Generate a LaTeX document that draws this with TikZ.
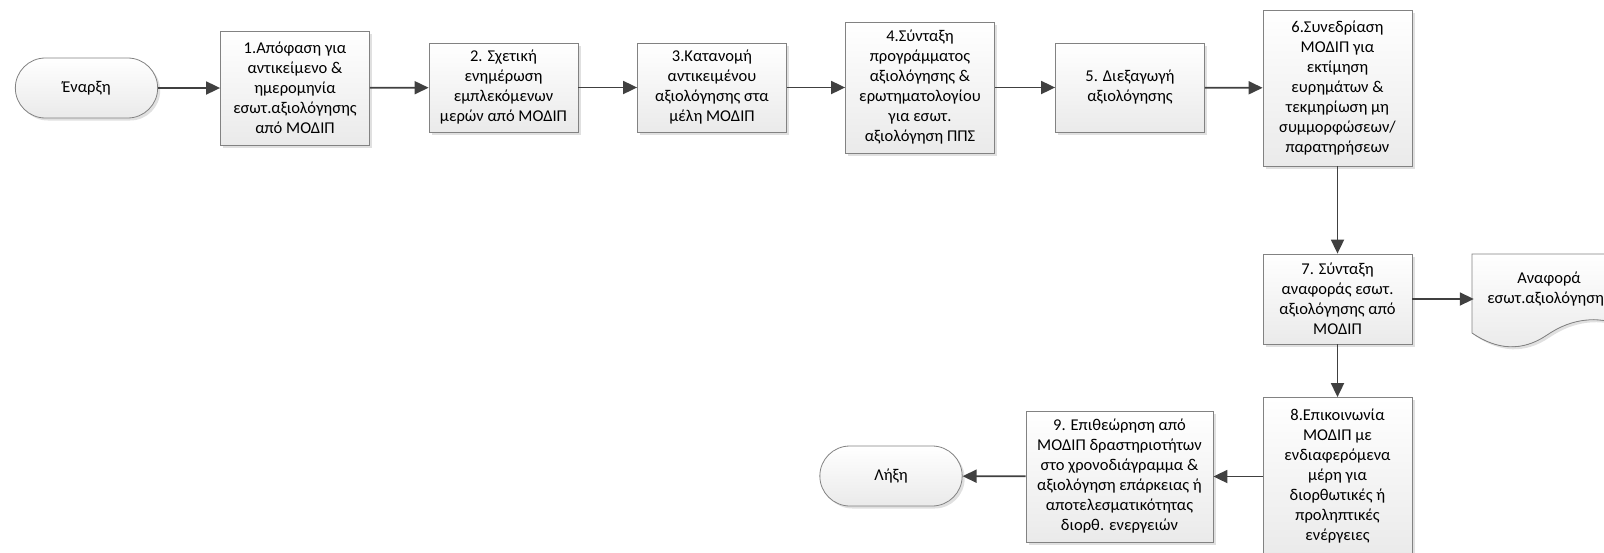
\documentclass[tikz,border=0pt]{standalone}
\usepackage{fontspec}
\setmainfont{Carlito}
\usetikzlibrary{arrows.meta,shapes.misc,shadows}
\definecolor{boxline}{RGB}{130,130,130}
\definecolor{arrowgray}{RGB}{64,64,64}
\definecolor{boxbottom}{RGB}{234,234,234}
\tikzset{
  stepbox/.style={rectangle,draw=boxline,line width=0.8pt,top color=white,bottom color=boxbottom,
    drop shadow={shadow xshift=2.5pt,shadow yshift=-2.5pt,fill=black,opacity=0.12},
    minimum width=149,align=center,inner sep=2pt,font=\fontsize{16.5}{20}\selectfont},
  termbox/.style={rounded rectangle,draw=boxline,line width=0.8pt,top color=white,bottom color=boxbottom,
    drop shadow={shadow xshift=2.5pt,shadow yshift=-2.5pt,fill=black,opacity=0.12},
    minimum width=149,minimum height=60,font=\fontsize{16.5}{20}\selectfont},
  flow/.style={draw=arrowgray,line width=1.8pt,-{Triangle[length=14pt,width=13pt]}}
}
\begin{document}
\begin{tikzpicture}[x=1pt,y=-1pt]
\useasboundingbox (0,0) rectangle (1604,552);

% top row
\node (start) at (86.5,88)[termbox]{Έναρξη};
\node (b1) at (295,88)[stepbox,minimum height=114]{1.Απόφαση για\\αντικείμενο \&\\ημερομηνία\\εσωτ.αξιολόγησης\\από ΜΟΔΙΠ};
\node (b2) at (503.5,87.5)[stepbox,minimum height=89]{2. Σχετική\\ενημέρωση\\εμπλεκόμενων\\μερών από ΜΟΔΙΠ};
\node (b3) at (712,87.5)[stepbox,minimum height=89]{3.Κατανομή\\αντικειμένου\\αξιολόγησης στα\\μέλη ΜΟΔΙΠ};
\node (b4) at (920,87.5)[stepbox,minimum height=131]{4.Σύνταξη\\προγράμματος\\αξιολόγησης \&\\ερωτηματολογίου\\για εσωτ.\\αξιολόγηση ΠΠΣ};
\node (b5) at (1130,87.5)[stepbox,minimum height=89]{5. Διεξαγωγή\\αξιολόγησης};
\node (b6) at (1337.5,88)[stepbox,minimum height=156]{6.Συνεδρίαση\\ΜΟΔΙΠ για\\εκτίμηση\\ευρημάτων \&\\τεκμηρίωση μη\\συμμορφώσεων/\\παρατηρήσεων};

% right column
\node (b7) at (1337.5,299)[stepbox,minimum height=90]{7. Σύνταξη\\αναφοράς εσωτ.\\αξιολόγησης από\\ΜΟΔΙΠ};
\node (b8) at (1337.5,476.5)[stepbox,minimum height=158]{8.Επικοινωνία\\ΜΟΔΙΠ με\\ενδιαφερόμενα\\μέρη για\\διορθωτικές ή\\προληπτικές\\ενέργειες};

% document
\filldraw[draw=boxline,line width=0.8pt,top color=white,bottom color=boxbottom,
  drop shadow={shadow xshift=2.5pt,shadow yshift=-2.5pt,fill=black,opacity=0.12}]
  (1472,254) -- (1622,254) -- (1622,325)
  .. controls (1597,316) and (1572,318) .. (1547,335)
  .. controls (1522,352) and (1497,350) .. (1472,333) -- cycle;
\node (rep) at (1549,289)[align=center,font=\fontsize{16.5}{20}\selectfont,minimum width=150,inner sep=0pt]{Αναφορά\\εσωτ.αξιολόγησης};

% bottom row
\node (b9) at (1119.5,476.5)[stepbox,minimum width=187,minimum height=131]{9. Επιθεώρηση από\\ΜΟΔΙΠ δραστηριοτήτων\\στο χρονοδιάγραμμα \&\\αξιολόγηση επάρκειας ή\\αποτελεσματικότητας\\διορθ. ενεργειών};
\node (end) at (891,476)[termbox]{Λήξη};

\draw[flow] (start)--(b1);
\draw[flow] (b1)--(b2);
\draw[flow] (b2)--(b3);
\draw[flow] (b3)--(b4);
\draw[flow] (b4)--(b5);
\draw[flow] (b5)--(b6);
\draw[flow] (b6)--(b7);
\draw[flow] (b7.east)--(b7.east -| rep.west);
\draw[flow] (b7)--(b8);
\draw[flow] (b8)--(b9);
\draw[flow] (b9)--(end);
\end{tikzpicture}
\end{document}
